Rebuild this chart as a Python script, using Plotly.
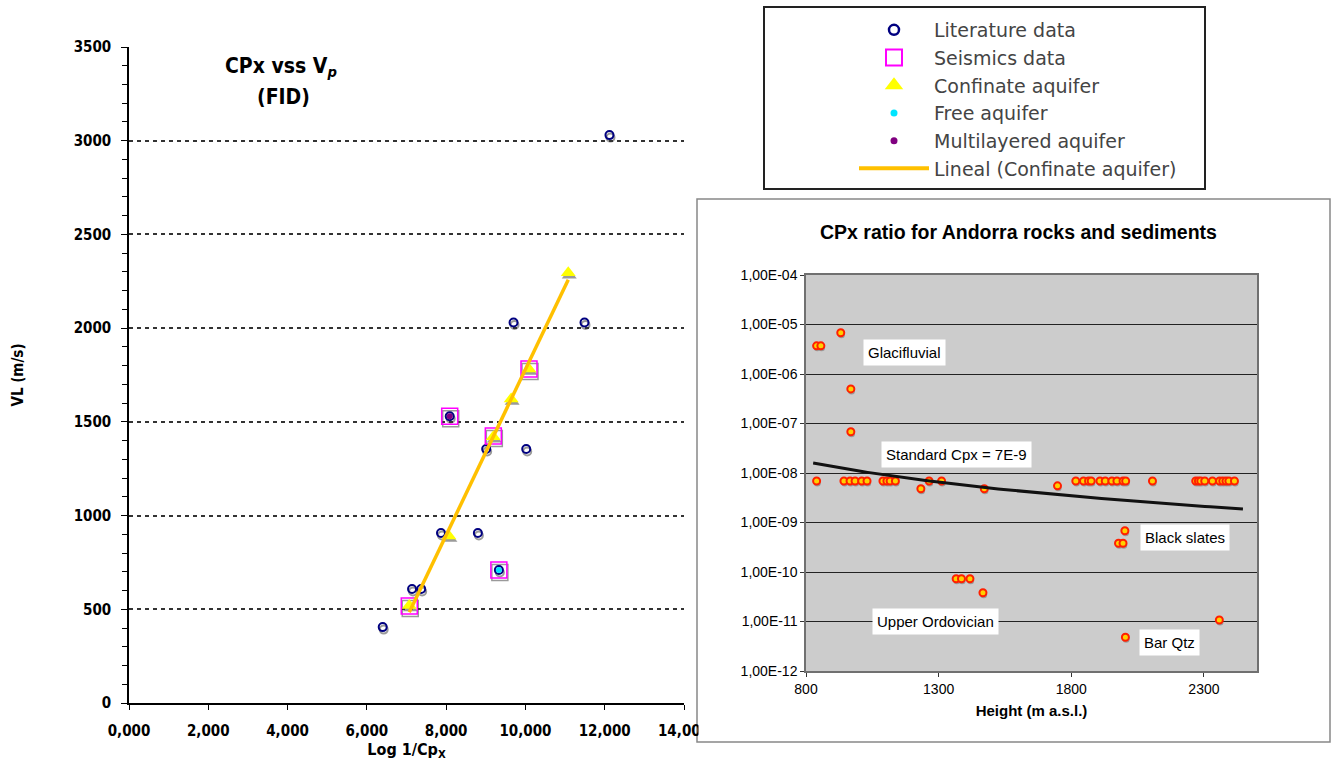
import numpy as np
import plotly.graph_objects as go

W, H = 1332, 764

# ---------------- Left panel: CPx vs Vp (FID) ----------------
lit_x = [6.40, 7.14, 7.37, 7.87, 8.80, 9.01, 10.02, 9.70, 11.49, 12.12, 8.09, 9.33]
lit_y = [405, 608, 608, 907, 907, 1355, 1355, 2030, 2030, 3030, 1530, 710]
seis_x = [7.07, 8.09, 9.19, 9.33, 10.09]
seis_y = [518, 1530, 1425, 710, 1782]
conf_x = [7.07, 8.07, 9.19, 9.64, 10.09, 11.08]
conf_y = [520, 891, 1420, 1622, 1782, 2296]
free_x = [9.33]
free_y = [710]
multi_x = [8.09]
multi_y = [1530]
left_xticks = [0, 2, 4, 6, 8, 10, 12, 14]
left_xticktext = ["0,000", "2,000", "4,000", "6,000", "8,000", "10,000", "12,000", "14,000"]

# ---------------- Right panel: CPx ratio vs height ----------------
height_m = [840, 856, 931, 969, 969,
            840, 943, 966, 985, 1010, 1030, 1090, 1105, 1117, 1137,
            1264, 1311, 1817, 1846, 1865, 1875, 1908, 1928, 1953, 1972, 1995, 2005,
            2106, 2269, 2279, 2288, 2303, 2332, 2359, 2371, 2383, 2394, 2415,
            1233, 1472, 1748,
            1366, 1386, 1418, 1467,
            2002, 1978, 1995,
            2004, 2358]
cpx_ratio = [3.7e-6, 3.7e-6, 6.8e-6, 5.0e-7, 6.8e-8,
             6.9e-9, 6.9e-9, 6.9e-9, 6.9e-9, 6.9e-9, 6.9e-9, 6.9e-9, 6.9e-9, 6.9e-9, 6.9e-9,
             6.9e-9, 6.9e-9, 6.9e-9, 6.9e-9, 6.9e-9, 6.9e-9, 6.9e-9, 6.9e-9, 6.9e-9, 6.9e-9, 6.9e-9, 6.9e-9,
             6.9e-9, 6.9e-9, 6.9e-9, 6.9e-9, 6.9e-9, 6.9e-9, 6.9e-9, 6.9e-9, 6.9e-9, 6.9e-9, 6.9e-9,
             4.8e-9, 4.8e-9, 5.5e-9,
             7.3e-11, 7.3e-11, 7.3e-11, 3.8e-11,
             6.8e-10, 3.8e-10, 3.8e-10,
             4.8e-12, 1.07e-11]
# power-law trend  cpx = coef * height ** exp
trend_coef = 8.9e-3
trend_exp = -1.97
trend_span = [827, 2447]
log_tickvals = [1e-4, 1e-5, 1e-6, 1e-7, 1e-8, 1e-9, 1e-10, 1e-11, 1e-12]
log_ticktext = ["1,00E-04", "1,00E-05", "1,00E-06", "1,00E-07", "1,00E-08",
                "1,00E-09", "1,00E-10", "1,00E-11", "1,00E-12"]
right_xticks = [800, 1300, 1800, 2300]
rock_labels = ["Glacifluvial", "Standard Cpx = 7E-9", "Black slates", "Upper Ordovician", "Bar Qtz"]


def px(x):
    return x / W


def py(y):
    return 1 - y / H


def xdom(x0, x1):
    return [px(x0), px(x1)]


def ydom(top, bottom):
    return [py(bottom), py(top)]


COND = "DejaVu Sans Condensed, Liberation Sans Narrow, DejaVu Sans"
ARIAL = "Arial, Liberation Sans"
SHADOW = "#9A9A9A"

fig = go.Figure()

# ---- drop shadows (own hidden axes, offset a couple of pixels down/right) ----
fig.add_trace(go.Scatter(x=lit_x, y=lit_y, mode="markers", showlegend=False, hoverinfo="skip",
                         marker=dict(symbol="circle-open", size=8, color=SHADOW, line=dict(width=2)),
                         xaxis="x", yaxis="y"))
fig.add_trace(go.Scatter(x=seis_x, y=seis_y, mode="markers", showlegend=False, hoverinfo="skip",
                         marker=dict(symbol="square-open", size=16, color=SHADOW, line=dict(width=1.5)),
                         xaxis="x", yaxis="y"))
fig.add_trace(go.Scatter(x=conf_x, y=conf_y, mode="markers", showlegend=False, hoverinfo="skip",
                         marker=dict(symbol="triangle-up", size=13, color=SHADOW),
                         xaxis="x", yaxis="y"))
fig.add_trace(go.Scatter(x=height_m, y=cpx_ratio, mode="markers", showlegend=False, hoverinfo="skip",
                         marker=dict(symbol="circle", size=7, color=SHADOW),
                         xaxis="x3", yaxis="y3"))

# legend entries (drawn once, symbols sized for the key)
legend_items = [
    ("Literature data", dict(mode="markers", marker=dict(symbol="circle-open", size=10, color="#000080", line=dict(width=2.5)))),
    ("Seismics data", dict(mode="markers", marker=dict(symbol="square-open", size=16, color="#FF00FF", line=dict(width=2)))),
    ("Confinate aquifer", dict(mode="markers", marker=dict(symbol="triangle-up", size=16, color="#FFFF00"))),
    ("Free aquifer", dict(mode="markers", marker=dict(symbol="circle", size=7, color="#00E5FF"))),
    ("Multilayered aquifer", dict(mode="markers", marker=dict(symbol="circle", size=7, color="#800080"))),
    ("Lineal (Confinate aquifer)", dict(mode="lines", line=dict(color="#FFC000", width=4))),
]
for name, style in legend_items:
    fig.add_trace(go.Scatter(x=[None], y=[None], name=name, legendgroup=name,
                             xaxis="x2", yaxis="y2", showlegend=True, **style))

# ---- left panel data ----
fig.add_trace(go.Scatter(x=lit_x, y=lit_y, mode="markers", legendgroup="Literature data", showlegend=False,
                         marker=dict(symbol="circle-open", size=8, color="#000080", line=dict(width=2)),
                         xaxis="x2", yaxis="y2"))
fig.add_trace(go.Scatter(x=free_x, y=free_y, mode="markers", legendgroup="Free aquifer", showlegend=False,
                         marker=dict(symbol="circle", size=6, color="#00E5FF"), xaxis="x2", yaxis="y2"))
fig.add_trace(go.Scatter(x=multi_x, y=multi_y, mode="markers", legendgroup="Multilayered aquifer", showlegend=False,
                         marker=dict(symbol="circle", size=6, color="#800080"), xaxis="x2", yaxis="y2"))
fig.add_trace(go.Scatter(x=seis_x, y=seis_y, mode="markers", legendgroup="Seismics data", showlegend=False,
                         marker=dict(symbol="square-open", size=16, color="#FF00FF", line=dict(width=1.5)),
                         xaxis="x2", yaxis="y2"))
fig.add_trace(go.Scatter(x=conf_x, y=conf_y, mode="markers", legendgroup="Confinate aquifer", showlegend=False,
                         marker=dict(symbol="triangle-up", size=13, color="#FFFF00"), xaxis="x2", yaxis="y2"))

# linear fit through the confined-aquifer points
slope, intercept = np.polyfit(conf_x, conf_y, 1)
fit_x = np.array([min(conf_x), max(conf_x)])
fig.add_trace(go.Scatter(x=fit_x, y=slope * fit_x + intercept, mode="lines",
                         legendgroup="Lineal (Confinate aquifer)", showlegend=False,
                         line=dict(color="#FFC000", width=3.5), xaxis="x2", yaxis="y2"))

# ---- right panel data ----
fig.add_trace(go.Scatter(x=height_m, y=cpx_ratio, mode="markers", showlegend=False,
                         marker=dict(symbol="circle", size=7, color="#FFD000",
                                     line=dict(color="#FF2000", width=2)),
                         xaxis="x4", yaxis="y4"))
th = np.linspace(trend_span[0], trend_span[1], 80)
fig.add_trace(go.Scatter(x=th, y=trend_coef * th ** trend_exp, mode="lines", showlegend=False,
                         line=dict(color="#111111", width=3), xaxis="x4", yaxis="y4"))

annotations = [
    dict(text="<b>CPx vss V<i><sub>p</sub></i></b>", x=px(281), y=py(67)),
    dict(text="<b>(FID)</b>", x=px(283), y=py(97)),
]
for a in annotations:
    a.update(xref="paper", yref="paper", xanchor="center", yanchor="middle", showarrow=False,
             font=dict(family=COND, size=21, color="black"))
annotations.append(dict(text="<b>CPx ratio for Andorra rocks and sediments</b>", x=px(1018), y=py(232),
                        xref="paper", yref="paper", xanchor="center", yanchor="middle", showarrow=False,
                        font=dict(family=ARIAL, size=19.5, color="black")))
label_pos = [(904, 352), (956, 454), (1185, 537), (935, 621), (1169, 642)]
for txt, (lx, ly) in zip(rock_labels, label_pos):
    annotations.append(dict(text=txt, x=px(lx), y=py(ly), xref="paper", yref="paper",
                            xanchor="center", yanchor="middle", showarrow=False,
                            bgcolor="white", borderpad=4,
                            font=dict(family=ARIAL, size=15, color="black")))

shapes = [
    # frame of the right-hand panel
    dict(type="rect", xref="paper", yref="paper", x0=px(697), x1=px(1330), y0=py(742), y1=py(199),
         fillcolor="white", line=dict(color="#888888", width=1.5), layer="below"),
    # grey plotting area of the right-hand panel
    dict(type="rect", xref="paper", yref="paper", x0=px(806), x1=px(1257), y0=py(671), y1=py(275),
         fillcolor="#CCCCCC", line=dict(width=0), layer="below"),
    # the panel's white interior hides the end of the left axis labels
    dict(type="rect", xref="paper", yref="paper", x0=px(698.5), x1=px(790), y0=py(740.5), y1=py(700),
         fillcolor="white", line=dict(width=0), layer="above"),
    # legend box
    dict(type="rect", xref="paper", yref="paper", x0=px(764), x1=px(1205), y0=py(189), y1=py(7),
         fillcolor="rgba(0,0,0,0)", line=dict(color="#222222", width=2), layer="above"),
]

hidden = dict(visible=False, showgrid=False, zeroline=False)

fig.update_layout(
    width=W, height=H,
    margin=dict(l=0, r=0, t=0, b=0, autoexpand=False),
    paper_bgcolor="white", plot_bgcolor="rgba(0,0,0,0)",
    showlegend=True,
    legend=dict(x=px(854), y=py(11), xanchor="left", yanchor="top", bgcolor="rgba(0,0,0,0)",
                borderwidth=0, itemwidth=70, tracegroupgap=0,
                font=dict(family="DejaVu Sans", size=19, color="#444444")),
    annotations=annotations,
    shapes=shapes,
    # shadow axes
    xaxis=dict(domain=xdom(130, 685), anchor="y", range=[0, 14], **hidden),
    yaxis=dict(domain=ydom(49.5, 705.5), anchor="x", range=[0, 3500], **hidden),
    xaxis3=dict(domain=xdom(806.7, 1257.7), anchor="y3", range=[800, 2500], **hidden),
    yaxis3=dict(domain=ydom(277, 673), anchor="x3", type="log", range=[-12, -4], **hidden),
    # left panel
    xaxis2=dict(domain=xdom(129, 684), anchor="y2", range=[0, 14],
                tickvals=left_xticks, ticktext=left_xticktext,
                ticks="outside", ticklen=5, tickcolor="black", tickwidth=1.2,
                showline=True, linecolor="black", linewidth=1.5,
                showgrid=False, zeroline=False, ticklabelstandoff=8,
                tickfont=dict(family=COND, size=15, color="black", weight="bold"),
                title=dict(text="Log 1/Cp<sub>X</sub>", standoff=3,
                           font=dict(family=COND, size=16, color="black", weight="bold"))),
    yaxis2=dict(domain=ydom(47, 703), anchor="x2", range=[0, 3500], dtick=500,
                ticks="outside", ticklen=6, tickcolor="black", tickwidth=1.2,
                minor=dict(dtick=100, ticks="outside", ticklen=5, tickcolor="black", showgrid=False),
                showline=True, linecolor="black", linewidth=1.5,
                showgrid=True, gridcolor="#333333", gridwidth=1.5, griddash="4px,4px",
                zeroline=False, ticklabelstandoff=7,
                tickfont=dict(family=COND, size=15, color="black", weight="bold"),
                title=dict(text="VL (m/s)", standoff=46,
                           font=dict(family=COND, size=15, color="black", weight="bold"))),
    # right panel
    xaxis4=dict(domain=xdom(806, 1257), anchor="y4", range=[800, 2500],
                tickvals=right_xticks, ticks="outside", ticklen=4, tickcolor="#333333",
                showline=True, linecolor="#707070", linewidth=1.5, mirror=True,
                showgrid=False, zeroline=False,
                tickfont=dict(family=ARIAL, size=14, color="black"),
                title=dict(text="<b>Height (m a.s.l.)</b>", standoff=10,
                           font=dict(family=ARIAL, size=15, color="black"))),
    yaxis4=dict(domain=ydom(275, 671), anchor="x4", type="log", range=[-12, -4],
                tickvals=log_tickvals, ticktext=log_ticktext,
                ticks="outside", ticklen=4, tickcolor="#333333",
                showline=True, linecolor="#707070", linewidth=1.5, mirror=True,
                showgrid=True, gridcolor="#222222", gridwidth=1, zeroline=False,
                tickfont=dict(family=ARIAL, size=14, color="black")),
)

fig.write_html("out.html")
